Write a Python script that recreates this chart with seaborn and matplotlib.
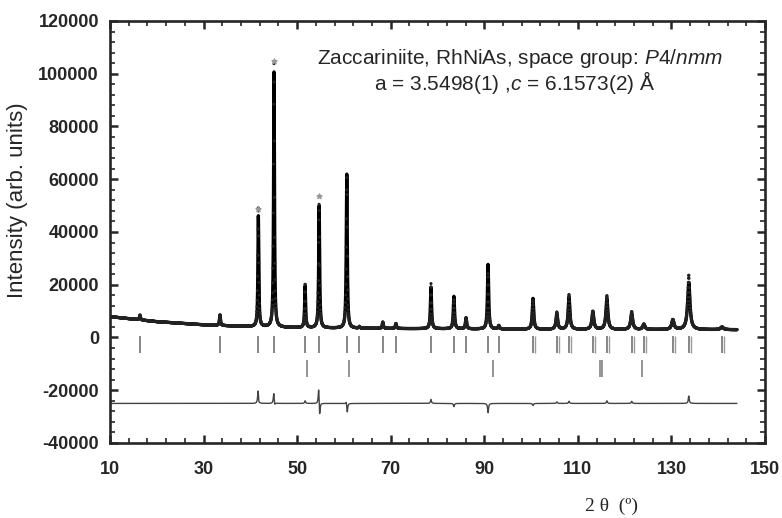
import numpy as np
import pandas as pd
import matplotlib
matplotlib.use('Agg')
import matplotlib.pyplot as plt
import seaborn as sns
from matplotlib.ticker import MultipleLocator

# Peak positions (2theta), heights above background and FWHM
peak_pos = [16.4, 33.5, 41.7, 45.05, 51.7, 54.7, 60.6, 63.3, 68.3, 71.1,
            78.6, 83.5, 86.1, 90.8, 93.1, 100.4, 105.5, 108.1, 113.2, 116.2,
            121.5, 124.1, 130.3, 133.7, 140.8]
peak_height = [1800, 4000, 42000, 97500, 15800, 46300, 58400, 600, 2400, 1900,
               15600, 12300, 4200, 24500, 1300, 11700, 5900, 12400, 6800, 11800,
               6000, 2000, 3700, 17900, 1000]
peak_fwhm = [0.25, 0.25, 0.22, 0.22, 0.24, 0.24, 0.25, 0.25, 0.27, 0.27,
             0.28, 0.30, 0.30, 0.30, 0.32, 0.36, 0.42, 0.42, 0.48, 0.48,
             0.52, 0.52, 0.58, 0.60, 0.70]

# Background level read at a few angles
bg_x = [10, 20, 30, 40, 50, 60, 80, 100, 120, 144]
bg_y = [7900, 6000, 4800, 4100, 3700, 3500, 3300, 3100, 3000, 2950]

# Residual (obs - calc) features: position, amplitude
res_pos = [41.65, 41.8, 45.0, 45.2, 51.7, 54.6, 54.8, 60.5, 60.7, 78.6,
           83.5, 90.8, 100.4, 105.5, 108.1, 116.2, 121.5, 133.7]
res_amp = [5000, -800, 4000, -1200, 1000, 6500, -5500, 1200, -3500, 1500,
           -1200, -3500, -800, 600, 800, 1000, 800, 2800]
diff_offset = -25000

# Bragg reflection markers (main phase, with K-alpha2 partners) and second phase
bragg1 = [16.4, 33.5, 41.7, 45.05, 51.7, 54.7, 60.6, 63.3, 68.3, 71.1,
          78.6, 83.5, 86.1, 90.8, 93.1, 100.4, 105.5, 108.1, 113.2, 116.2,
          121.5, 124.1, 130.3, 133.7, 140.8]
bragg1_a2 = [100.8, 105.9, 108.5, 113.6, 116.6, 122.0, 124.6, 130.8, 134.2, 141.3]
bragg2 = [52.2, 61.1, 91.9, 114.7, 115.1, 123.7]

# Grey star markers on top of the strongest peaks
star_x = [41.7, 45.05, 54.7]
star_y = [48700, 104800, 53700]

two_theta = np.arange(10, 144.01, 0.02)

bg = np.interp(two_theta, bg_x, bg_y)
calc = bg.copy()
for p, h, w in zip(peak_pos, peak_height, peak_fwhm):
    g = (w / 2) ** 2
    calc += h * g / ((two_theta - p) ** 2 + g)
res = np.zeros_like(two_theta)
for p, a in zip(res_pos, res_amp):
    g = 0.12 ** 2
    res += a * g / ((two_theta - p) ** 2 + g)
obs = calc + res

df = pd.DataFrame({'two_theta': two_theta, 'calc': calc, 'obs': obs,
                   'diff': res + diff_offset})

sns.set_style('ticks')
plt.rcParams['font.family'] = ['Liberation Sans', 'DejaVu Sans']
plt.rcParams['mathtext.fontset'] = 'custom'
plt.rcParams['mathtext.rm'] = 'Liberation Sans'
plt.rcParams['mathtext.it'] = 'Liberation Sans:italic'
plt.rcParams['axes.unicode_minus'] = False

fig = plt.figure(figsize=(7.82, 5.18), dpi=100)
ax = fig.add_axes([0.1407, 0.1448, 0.8376, 0.8147])

# observed points, calculated profile, difference curve
sns.scatterplot(data=df.iloc[::2], x='two_theta', y='obs', ax=ax, s=5,
                color='#222222', edgecolor='none', zorder=3)
sns.lineplot(data=df, x='two_theta', y='calc', ax=ax, color='black',
             linewidth=2.4, estimator=None, sort=False, zorder=2)
sns.lineplot(data=df, x='two_theta', y='diff', ax=ax, color='#444444',
             linewidth=1.0, estimator=None, sort=False)
ax.scatter(star_x, star_y, marker='*', s=14, color='#999999', zorder=4)

ax.vlines(bragg1, -6000, 500, color='#666666', linewidth=1.1)
ax.vlines(bragg1_a2, -6000, 500, color='#999999', linewidth=1.0)
ax.vlines(bragg2, -15000, -8500, color='#777777', linewidth=1.1)

ax.set_xlim(10, 150)
ax.set_ylim(-40000, 120000)
ax.xaxis.set_major_locator(MultipleLocator(20, offset=10))
ax.xaxis.set_minor_locator(MultipleLocator(4, offset=2))
ax.yaxis.set_major_locator(MultipleLocator(20000))
ax.yaxis.set_minor_locator(MultipleLocator(4000))
ax.tick_params(which='major', direction='in', length=6, width=1.8,
               top=True, right=True, labelsize=13, pad=8)
ax.tick_params(axis='x', which='major', pad=13)
ax.tick_params(which='minor', direction='in', length=3.5, width=1.2,
               top=True, right=True)
for lab in ax.get_xticklabels() + ax.get_yticklabels():
    lab.set_fontweight('bold')
for sp in ax.spines.values():
    sp.set_linewidth(1.9)

ax.set_ylabel('Intensity (arb. units)', fontsize=16)
ax.yaxis.set_label_coords(-0.125, 0.576)
ax.set_xlabel('2 θ  (º)', fontsize=14, family=['Liberation Serif', 'DejaVu Serif'])
ax.xaxis.set_label_coords(0.766, -0.13)

ax.text(0.626, 0.912, 'Zaccariniite, RhNiAs, space group: $\\it{P4/nmm}$',
        transform=ax.transAxes, ha='center', va='center', fontsize=15)
ax.text(0.618, 0.855, 'a = 3.5498(1) ,$\\it{c}$ = 6.1573(2) Å',
        transform=ax.transAxes, ha='center', va='center', fontsize=15)

fig.savefig('out.png', dpi=100)
